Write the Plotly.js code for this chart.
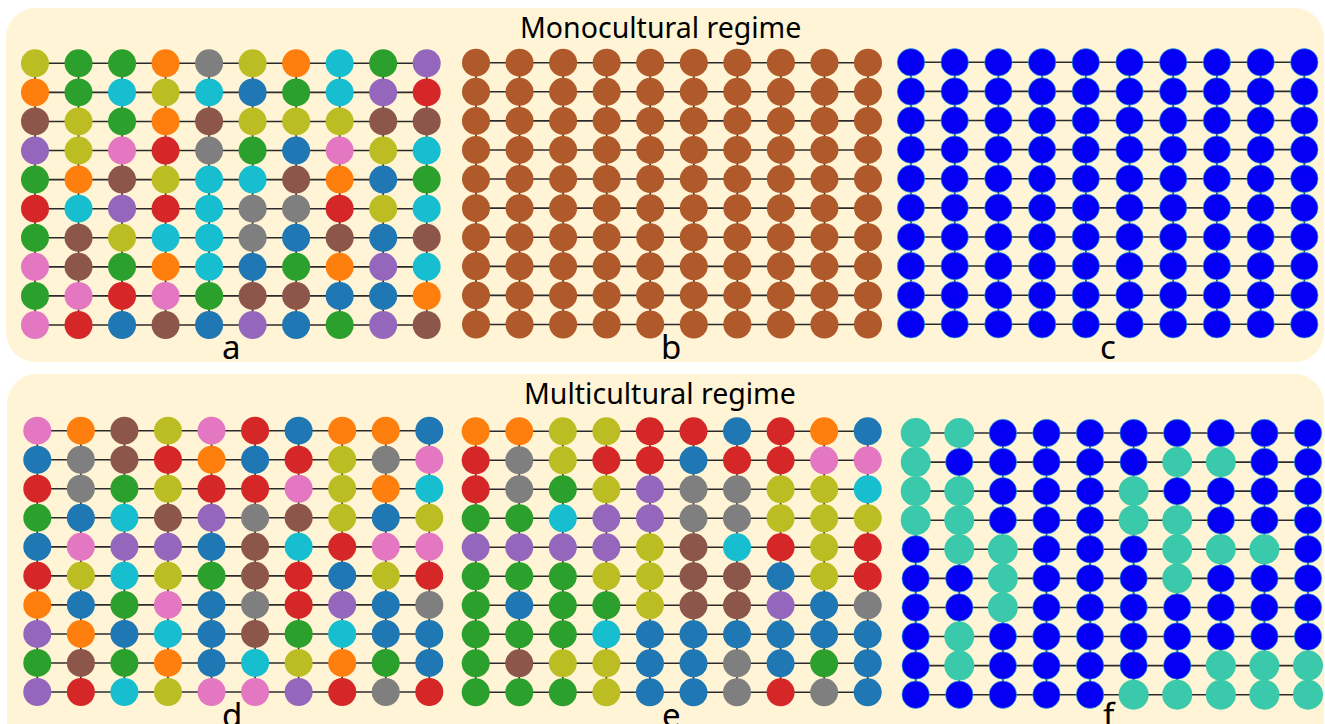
<!DOCTYPE html>
<html>
<head>
<meta charset="utf-8">
<script src="https://cdn.plot.ly/plotly-3.0.1.min.js"></script>
<style>html,body{margin:0;padding:0;background:#fff;}#chart{width:1325px;height:724px;}</style>
</head>
<body>
<div id="chart"></div>
<script>
// ---------- DATA ----------
// colour codes: b=blue o=orange g=green r=red p=purple n=brown k=pink y=gray l=olive c=cyan
//               B=rust brown, U=pure blue, T=teal
const colorKey = {
  b:'#1f77b4', o:'#ff7f0e', g:'#2ca02c', r:'#d62728', p:'#9467bd',
  n:'#8c564b', k:'#e377c2', y:'#7f7f7f', l:'#bcbd22', c:'#17becf',
  B:'#b0592b', U:'#0500f5', T:'#3bc9ab'
};
const gridA = ["lggoylocgp","ogclcbgcpr","nlgonlllnn","plkrygbklc","gonlccnobg",
               "rcprcyyrlc","gnlccybnbn","kngocbgopc","gkrkgnnbbo","krbnbpbgpn"];
const gridB = ["BBBBBBBBBB","BBBBBBBBBB","BBBBBBBBBB","BBBBBBBBBB","BBBBBBBBBB",
               "BBBBBBBBBB","BBBBBBBBBB","BBBBBBBBBB","BBBBBBBBBB","BBBBBBBBBB"];
const gridC = ["UUUUUUUUUU","UUUUUUUUUU","UUUUUUUUUU","UUUUUUUUUU","UUUUUUUUUU",
               "UUUUUUUUUU","UUUUUUUUUU","UUUUUUUUUU","UUUUUUUUUU","UUUUUUUUUU"];
const gridD = ["konlkrboob","bynrobrlyk","ryglrrkloc","gbcnpynlbl","bkppbncrkk",
               "rlclgnrblr","obgkbyrpby","pobcbngcbb","gngobclogb","prclkkpryr"];
const gridE = ["oollrrbrob","rylrrbrrkk","ryglpyyllc","ggcppyylll","pppplncrlr",
               "gggllnnblr","gbgglnnpby","gggcbbbbbb","gnllbbybgb","ggglbbyryb"];
const gridF = ["TTUUUUUUUU","TUUUUUTTUU","TTUUUTUUUU","TTUUUTTUUU","UTTUUUTTTU",
               "UUTUUUTUUU","UUTUUUUUUU","UTUUUUUUUU","UTUUUUUTTT","UUUUUTTTTT"];
const panelLabels = ["a","b","c","d","e","f"];
const regimeTitles = ["Monocultural regime","Multicultural regime"];

// ---------- LAYOUT GEOMETRY (pixels) ----------
const W = 1325, H = 724;
const panels = [
  {rows:gridA, x0:35,    x9:426.7, y0:63.3,  y9:325,   size:28},
  {rows:gridB, x0:476,   x9:868,   y0:62.7,  y9:324.5, size:28},
  {rows:gridC, x0:911,   x9:1304.3,y0:62.3,  y9:324.3, size:27.5},
  {rows:gridD, x0:37.3,  x9:429.3, y0:430.7, y9:692,   size:28},
  {rows:gridE, x0:475.7, x9:867.7, y0:431.3, y9:692.3, size:28},
  {rows:gridF, x0:915.7, x9:1308,  y0:433,   y9:694.7, size:27.5}
];

const traces = [];
const layout = {
  width: W, height: H,
  margin: {l:0, r:0, t:0, b:0},
  paper_bgcolor: '#ffffff',
  plot_bgcolor: 'rgba(0,0,0,0)',
  showlegend: false,
  shapes: [],
  annotations: []
};

function clamp(v, a, b){ return Math.max(a, Math.min(b, v)); }

panels.forEach((p, i) => {
  const n = i + 1;
  const xa = n === 1 ? 'xaxis' : 'xaxis' + n;
  const ya = n === 1 ? 'yaxis' : 'yaxis' + n;
  const xr = n === 1 ? 'x' : 'x' + n;
  const yr = n === 1 ? 'y' : 'y' + n;
  const sx = (p.x9 - p.x0) / 9, sy = (p.y9 - p.y0) / 9;
  const xL = clamp(p.x0 - sx/2, 0, W), xR = clamp(p.x9 + sx/2, 0, W);
  const yT = clamp(p.y0 - sy/2, 0, H), yB = clamp(p.y9 + sy/2, 0, H);
  layout[xa] = {domain:[xL/W, xR/W], range:[(xL - p.x0)/sx, (xR - p.x0)/sx],
                visible:false, fixedrange:true};
  layout[ya] = {domain:[1 - yB/H, 1 - yT/H], range:[(yB - p.y0)/sy, (yT - p.y0)/sy],
                visible:false, fixedrange:true};

  // grid edges
  const ex = [], ey = [];
  for (let r = 0; r < 10; r++) { ex.push(0, 9, null); ey.push(r, r, null); }
  for (let c = 0; c < 10; c++) { ex.push(c, c, null); ey.push(0, 9, null); }
  traces.push({type:'scatter', mode:'lines', x:ex, y:ey, xaxis:xr, yaxis:yr,
               line:{color:'#2b2b2b', width:1.6}, hoverinfo:'skip', cliponaxis:false});

  // nodes
  const nx = [], ny = [], cols = [], sizes = [], lw = [], lc = [];
  p.rows.forEach((row, r) => {
    row.split('').forEach((code, c) => {
      nx.push(c); ny.push(r);
      cols.push(colorKey[code]);
      sizes.push(code === 'T' ? p.size + 2.5 : p.size);
      lw.push(code === 'U' ? 0.6 : 0);
      lc.push(code === 'U' ? '#2cc4c4' : 'rgba(0,0,0,0)');
    });
  });
  traces.push({type:'scatter', mode:'markers', x:nx, y:ny, xaxis:xr, yaxis:yr,
               marker:{color:cols, size:sizes, opacity:1, line:{width:lw, color:lc}},
               hoverinfo:'skip', cliponaxis:false});
});

// rounded background boxes (pixel -> paper)
function roundedBox(x1, y1, x2, y2, rad) {
  const k = 0.5523 * rad;
  const X = v => (v / W).toFixed(5), Y = v => (1 - v / H).toFixed(5);
  return 'M ' + X(x1 + rad) + ',' + Y(y1) +
    ' L ' + X(x2 - rad) + ',' + Y(y1) +
    ' C ' + X(x2 - rad + k) + ',' + Y(y1) + ' ' + X(x2) + ',' + Y(y1 + rad - k) + ' ' + X(x2) + ',' + Y(y1 + rad) +
    ' L ' + X(x2) + ',' + Y(y2 - rad) +
    ' C ' + X(x2) + ',' + Y(y2 - rad + k) + ' ' + X(x2 - rad + k) + ',' + Y(y2) + ' ' + X(x2 - rad) + ',' + Y(y2) +
    ' L ' + X(x1 + rad) + ',' + Y(y2) +
    ' C ' + X(x1 + rad - k) + ',' + Y(y2) + ' ' + X(x1) + ',' + Y(y2 - rad + k) + ' ' + X(x1) + ',' + Y(y2 - rad) +
    ' L ' + X(x1) + ',' + Y(y1 + rad) +
    ' C ' + X(x1) + ',' + Y(y1 + rad - k) + ' ' + X(x1 + rad - k) + ',' + Y(y1) + ' ' + X(x1 + rad) + ',' + Y(y1) + ' Z';
}
layout.shapes.push({type:'path', xref:'paper', yref:'paper', layer:'below',
  path: roundedBox(6, 8, 1324, 362, 30), fillcolor:'#fff5d6', line:{width:0}});
layout.shapes.push({type:'path', xref:'paper', yref:'paper', layer:'below',
  path: roundedBox(7, 374, 1324, 760, 30), fillcolor:'#fff5d6', line:{width:0}});

// titles
const titlePos = [{x:660, y:27}, {x:660, y:393}];
regimeTitles.forEach((t, i) => {
  layout.annotations.push({text:t, xref:'paper', yref:'paper', x:titlePos[i].x / W,
    y:1 - titlePos[i].y / H, xanchor:'center', yanchor:'middle', showarrow:false,
    font:{family:'Noto Sans', size:28.5, color:'#000'}});
});
// panel labels
const labelPos = [{x:231,y:346},{x:671,y:346},{x:1108,y:346},{x:232,y:714},{x:672,y:714},{x:1109,y:714}];
panelLabels.forEach((t, i) => {
  layout.annotations.push({text:t, xref:'paper', yref:'paper', x:labelPos[i].x / W,
    y:1 - labelPos[i].y / H, xanchor:'center', yanchor:'middle', showarrow:false,
    font:{family:'Noto Sans', size:33, color:'#000'}});
});

Plotly.newPlot('chart', traces, layout, {staticPlot:true, displayModeBar:false});
</script>
</body>
</html>
